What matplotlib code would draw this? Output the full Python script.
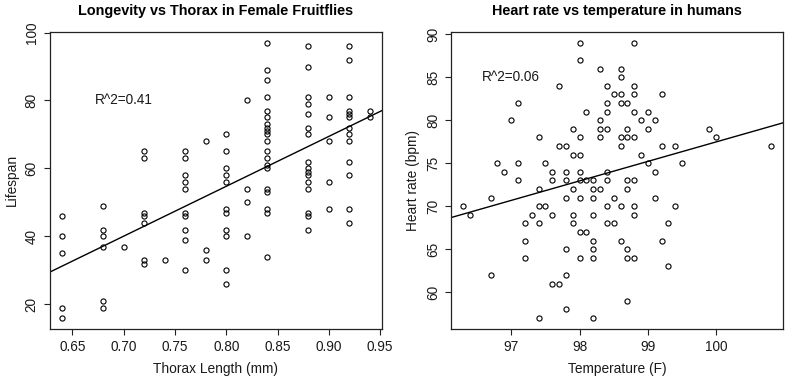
import numpy as np
import matplotlib
matplotlib.use("Agg")
import matplotlib.pyplot as plt

plt.rcParams['font.family'] = ['Liberation Sans', 'DejaVu Sans']

# ---- Fruitfly data (thorax length, lifespan) ----
fly_groups = {
    0.64: [46, 40, 35, 19, 16],
    0.68: [49, 42, 40, 37, 21, 19],
    0.70: [37],
    0.72: [65, 63, 47, 46, 44, 33, 32],
    0.74: [33],
    0.76: [65, 63, 58, 56, 54, 47, 46, 42, 39, 30],
    0.78: [68, 36, 33],
    0.80: [70, 65, 60, 58, 56, 48, 47, 42, 40, 30, 26],
    0.82: [80, 54, 50, 40],
    0.84: [97, 89, 86, 81, 77, 75, 73, 72, 71, 70, 68, 65, 63, 61, 60, 54, 53, 48, 47, 34],
    0.88: [96, 90, 81, 79, 76, 72, 70, 62, 60, 59, 58, 56, 54, 47, 46, 42],
    0.90: [81, 75, 68, 56, 48],
    0.92: [96, 92, 81, 77, 76, 75, 72, 70, 68, 62, 58, 48, 44],
    0.94: [77, 75],
}
thorax = np.array([k for k, v in fly_groups.items() for _ in v])
lifespan = np.array([y for v in fly_groups.values() for y in v])

# ---- Body temperature data (temperature F, heart rate) ----
temp_groups = {
    96.3: [70], 96.4: [69], 96.7: [71, 62], 96.8: [75], 96.9: [74],
    97.0: [80], 97.1: [82, 75, 73], 97.2: [68, 66, 64], 97.3: [69],
    97.4: [78, 72, 70, 68, 57], 97.5: [75, 70], 97.6: [74, 73, 69, 61],
    97.7: [84, 77, 61], 97.8: [77, 74, 73, 71, 65, 62, 58],
    97.9: [79, 76, 72, 69, 68], 98.0: [89, 87, 78, 76, 74, 73, 71, 67, 64],
    98.1: [81, 73, 67], 98.2: [73, 72, 71, 69, 66, 65, 64, 57],
    98.3: [86, 80, 79, 78, 72], 98.4: [84, 82, 81, 79, 74, 73, 70, 68],
    98.5: [83, 71, 68], 98.6: [86, 85, 83, 82, 78, 77, 70, 66],
    98.7: [82, 79, 78, 73, 72, 65, 64, 59],
    98.8: [89, 84, 83, 81, 78, 73, 70, 69, 64],
    98.9: [80, 76], 99.0: [81, 79, 75], 99.1: [80, 74, 71],
    99.2: [83, 77, 66], 99.3: [68, 63], 99.4: [77, 70], 99.5: [75],
    99.9: [79], 100.0: [78], 100.8: [77],
}
temperature = np.array([k for k, v in temp_groups.items() for _ in v])
heartrate = np.array([y for v in temp_groups.values() for y in v])

fly_xticks = [0.65, 0.70, 0.75, 0.80, 0.85, 0.90, 0.95]
fly_yticks = [20, 40, 60, 80, 100]
hr_xticks = [97, 98, 99, 100]
hr_yticks = [60, 65, 70, 75, 80, 85, 90]

W, H = 785, 377
fig = plt.figure(figsize=(W / 100, H / 100), dpi=100)

def r_axes(rect):
    ax = fig.add_axes(rect)
    for s in ax.spines.values():
        s.set_linewidth(0.9)
        s.set_color('#222222')
    ax.tick_params(direction='out', length=4, width=0.8, color='#222222',
                   labelsize=9.8, pad=4, labelcolor='#1a1a1a')
    return ax

def rlim(v):
    lo, hi = np.min(v), np.max(v)
    d = (hi - lo) * 0.04
    return lo - d, hi + d

bottom = (H - 329) / H
height = (329 - 31.7) / H

def panel(rect, x, y, xt, yt, title, xl, yl, rtext, rpos):
    ax = r_axes(rect)
    ax.plot(x, y, 'o', ms=3.7, mfc='none', mec='black', mew=0.8)
    xlim = rlim(x)
    ylim = rlim(y)
    b, a = np.polyfit(x, y, 1)
    xs = np.array(xlim)
    ax.plot(xs, a + b * xs, color='black', lw=1.0)
    ax.set_xlim(xlim)
    ax.set_ylim(ylim)
    ax.set_xticks(xt)
    ax.set_yticks(yt)
    ax.set_xticklabels([f"{t:.2f}" if isinstance(t, float) else str(t) for t in xt])
    ax.set_yticklabels([str(t) for t in yt], rotation=90, va='center')
    ax.set_title(title, fontsize=10.4, fontweight='bold', pad=12)
    ax.set_xlabel(xl, fontsize=9.9, labelpad=6, color='#1a1a1a')
    ax.set_ylabel(yl, fontsize=9.9, labelpad=4, color='#1a1a1a')
    ax.text(rpos[0], rpos[1], rtext, ha='center', va='center', fontsize=9.8,
            color='#1a1a1a')
    return ax

panel([49.7 / W, bottom, 332.5 / W, height], thorax, lifespan,
      fly_xticks, fly_yticks, "Longevity vs Thorax in Female Fruitflies",
      "Thorax Length (mm)", "Lifespan", "R^2=0.41", (0.70, 80))
panel([451 / W, bottom, 332.3 / W, height], temperature, heartrate,
      hr_xticks, hr_yticks, "Heart rate vs temperature in humans",
      "Temperature (F)", "Heart rate (bpm)", "R^2=0.06", (97.0, 85))

fig.savefig("out.png", dpi=100)
